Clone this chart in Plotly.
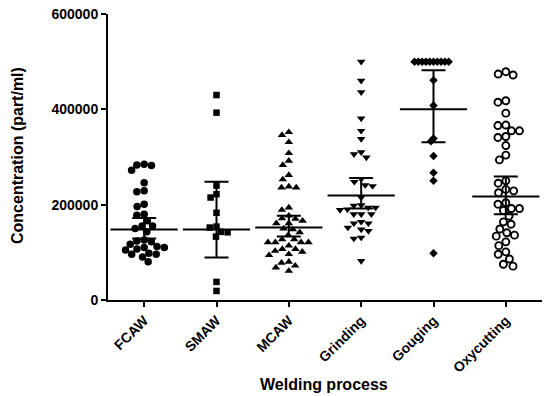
import math
import plotly.graph_objects as go

categories = ["FCAW", "SMAW", "MCAW", "Grinding", "Gouging", "Oxycutting"]

fcaw = [283000, 272000, 282000, 285000, 246000, 227000, 229000, 201000, 196000, 180000,
        178000, 166000, 155000, 150000, 143000, 155000, 126000, 122000, 124000, 110000,
        105000, 112000, 117000, 107000, 110000, 96000, 96000, 98000, 90000, 80000]
smaw = [430000, 393000, 240000, 222000, 215000, 183000, 152000, 154000, 143000, 142000,
        133000, 38000, 19000]
mcaw = [346000, 352000, 331000, 308000, 292000, 283000, 253000, 262000, 236000, 236000,
        238000, 194000, 189000, 177000, 171000, 170000, 166000, 161000, 161000, 150000,
        148000, 142000, 136000, 127000, 121000, 121000, 121000, 121000, 127000, 114000,
        103000, 107000, 96000, 94000, 101000, 107000, 72000, 61000, 68000, 80000, 78000]
grinding = [500000, 460000, 436000, 381000, 355000, 338000, 310000, 299000, 306000, 248000,
            239000, 241000, 254000, 215000, 198000, 199000, 194000, 190000, 180000, 180000,
            180000, 189000, 194000, 161000, 161000, 164000, 148000, 152000, 145000, 131000,
            129000, 82000]
gouging = [500000, 500000, 500000, 500000, 500000, 500000, 500000, 500000, 500000, 500000,
           461000, 408000, 339000, 333000, 302000, 267000, 250000, 98000]
oxycutting = [474000, 472000, 479000, 415000, 418000, 392000, 355000, 366000, 367000, 355000,
              343000, 341000, 324000, 304000, 294000, 245000, 250000, 229000, 225000, 232000,
              201000, 204000, 192000, 188000, 192000, 176000, 159000, 164000, 149000, 136000,
              134000, 141000, 114000, 122000, 96000, 101000, 86000, 71000, 75000]

medians = [148000, 148000, 152000, 219000, 400000, 217000]
upper = [172000, 248000, 177000, 256000, 482000, 259000]
lower = [129000, 89000, 133000, 192000, 331000, 180000]

groups = [fcaw, smaw, mcaw, grinding, gouging, oxycutting]

# layout geometry (pixels); page body margin is removed in the page script
W, H = 550, 396
ML, MT = 108, 14
MR = W - 542
MB = H - 300
YMAX = 600000
plot_w = W - ML - MR
plot_h = H - MT - MB
px_per_cat = plot_w / 6.0
px_per_val = plot_h / YMAX


def swarm(vals, d):
    ys = [v * px_per_val for v in vals]
    order = sorted(range(len(vals)), key=lambda i: -vals[i])
    placed = []
    offs = [0.0] * len(vals)
    for i in order:
        yi = ys[i]
        cands = [0.0]
        for (xj, yj) in placed:
            dy = abs(yj - yi)
            if dy < d:
                dx = math.sqrt(d * d - dy * dy)
                cands += [xj + dx, xj - dx]
        cands.sort(key=lambda c: (abs(c), c))
        for c in cands:
            ok = True
            for (xj, yj) in placed:
                if (xj - c) ** 2 + (yj - yi) ** 2 < d * d - 1e-6:
                    ok = False
                    break
            if ok:
                offs[i] = c
                placed.append((c, yi))
                break
    return [o / px_per_cat for o in offs]


styles = [
    dict(symbol="circle", size=7.5, color="black", line=dict(width=0), spacing=7.4),
    dict(symbol="square", size=6.5, color="black", line=dict(width=0), spacing=6.8),
    dict(symbol="triangle-up", size=7.5, color="black", line=dict(width=0), spacing=7.4),
    dict(symbol="triangle-down", size=7.5, color="black", line=dict(width=0), spacing=7.4),
    dict(symbol="diamond", size=6.5, color="black", line=dict(width=0), spacing=3.8),
    dict(symbol="circle", size=7, color="white", line=dict(width=1.9, color="black"), spacing=8.0),
]

fig = go.Figure()
for k, (vals, st) in enumerate(zip(groups, styles)):
    offs = swarm(vals, st["spacing"])
    fig.add_trace(go.Scatter(
        x=[k + o for o in offs], y=vals, mode="markers",
        marker=dict(symbol=st["symbol"], size=st["size"], color=st["color"], line=st["line"]),
        showlegend=False, hoverinfo="y", cliponaxis=False))

fig.add_trace(go.Scatter(
    x=list(range(len(categories))), y=medians, mode="markers",
    marker=dict(symbol="line-ew", size=48, line=dict(width=2, color="black"), color="black"),
    error_y=dict(type="data", symmetric=False,
                 array=[u - m for u, m in zip(upper, medians)],
                 arrayminus=[m - l for m, l in zip(medians, lower)],
                 width=12, thickness=2, color="black"),
    showlegend=False, hoverinfo="y"))


def paper_x(screen_x):
    return (screen_x - ML) / plot_w


def paper_y(screen_y):
    return ((H - screen_y) - MB) / plot_h


font_family = "Liberation Sans, Arial, sans-serif"
fig.update_layout(
    width=W, height=H,
    margin=dict(l=ML, r=MR, t=MT, b=MB),
    paper_bgcolor="white", plot_bgcolor="white",
    font=dict(family=font_family, color="black"),
    xaxis=dict(
        range=[-0.5, 5.5], tickvals=list(range(len(categories))), ticktext=categories,
        tickangle=-45, ticks="outside", ticklen=5, tickwidth=2, tickcolor="black",
        showline=True, linewidth=2, linecolor="black", showgrid=False, zeroline=False,
        tickfont=dict(size=14, weight="bold", family=font_family), automargin=False,
        ticklabeloverflow="allow",
    ),
    yaxis=dict(
        range=[0, YMAX], tickvals=[0, 200000, 400000, 600000],
        ticktext=["0", "200000", "400000", "600000"],
        ticks="outside", ticklen=5, tickwidth=2, tickcolor="black",
        showline=True, linewidth=2, linecolor="black", showgrid=False, zeroline=False,
        tickfont=dict(size=14, weight="bold", family=font_family), automargin=False,
        ticklabeloverflow="allow",
    ),
    annotations=[
        dict(text="Welding process", x=paper_x(324), y=paper_y(385), xref="paper", yref="paper",
             xanchor="center", yanchor="middle", showarrow=False,
             font=dict(size=16, weight="bold", family=font_family)),
        dict(text="Concentration (part/ml)", x=paper_x(17), y=paper_y(156), xref="paper", yref="paper",
             xanchor="center", yanchor="middle", textangle=-90, showarrow=False,
             font=dict(size=16, weight="bold", family=font_family)),
    ],
)

fig.write_html("out.html", config={"displayModeBar": False},
               post_script="document.body.style.margin='0';")
